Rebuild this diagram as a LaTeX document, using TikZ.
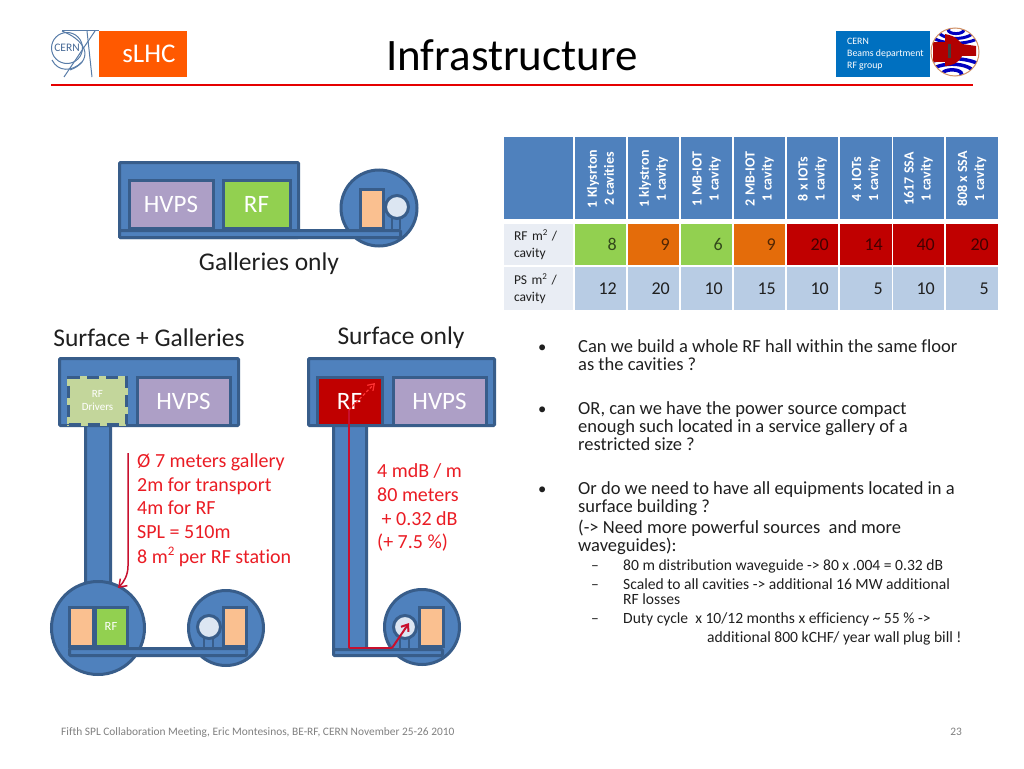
\documentclass[tikz,border=0pt]{standalone}
\usepackage{fontspec}
\usetikzlibrary{arrows.meta}
\setmainfont{Carlito}[Ligatures=NoCommon]
\definecolor{bfill}{HTML}{4F81BD}
\definecolor{bline}{HTML}{385D8A}
\definecolor{hvps}{HTML}{AD9FC6}
\definecolor{rfgreen}{HTML}{92D050}
\definecolor{peach}{HTML}{FAC090}
\definecolor{pale}{HTML}{DCE6F2}
\definecolor{drv}{HTML}{C3D69B}
\definecolor{rfred}{HTML}{C00000}
\definecolor{route}{HTML}{C8102E}
\definecolor{orng}{HTML}{E46C0A}
\definecolor{rowa}{HTML}{E9EDF4}
\definecolor{rowb}{HTML}{B8CCE4}
\definecolor{annot}{HTML}{EA1C24}
\definecolor{txt}{HTML}{1F1F1F}
\definecolor{foot}{HTML}{7F7F7F}
\newcommand{\fs}[1]{\fontsize{#1}{#1}\selectfont}
\newcommand{\sqr}[1]{\raisebox{0.4em}{\fs{#1}2}}
\tikzset{
 blk/.style={draw=bline,line width=3pt,fill=bfill,rounded corners=1pt,inner sep=0pt,outer sep=0pt},
 room/.style={draw=bline,line width=3pt,inner sep=0pt,outer sep=0pt,text=white},
 hcell/.style={inner sep=0pt,outer sep=0pt,fill=bfill,minimum width=#1,minimum height=82pt},
 htxt/.style={rotate=90,align=center,text=white,font=\fs{14}\bfseries,inner sep=0pt,execute at begin node={\baselineskip=17pt}},
 num/.style={fill=#1,inner sep=0pt,outer sep=0pt},
 line/.style={anchor=base west,inner sep=0pt,text=txt,font=\fs{18.5}},
 bull/.style={anchor=base west,inner sep=0pt,text=txt,font=\fs{16.6}},
 subl/.style={anchor=base west,inner sep=0pt,text=txt,font=\fs{15.6}},
 note/.style={anchor=base west,inner sep=0pt,text=annot,font=\fs{20}},
 big/.style={inner sep=0pt,text=txt,font=\fs{25.5}},
}
\newcommand{\tcol}[7]{%name, center, width, head, rf val, rf colour, ps val
 \node[hcell=#3pt] (h#1) at (#2,178) {};
 \node[htxt] at (#2,179) {#4};
 \node[num=#6,minimum width=#3pt,minimum height=41pt] (r#1) at (#2,244.5) {};
 \node[anchor=base east,inner sep=0pt,font=\fs{18},text=black!65!#6] at (#2+#3/2-9,250) {#5};
 \node[num=rowb,minimum width=#3pt,minimum height=43pt] (p#1) at (#2,288.5) {};
 \node[anchor=base east,inner sep=0pt,font=\fs{18},text=txt] at (#2+#3/2-9,294) {#7};
}
\begin{document}
\begin{tikzpicture}[x=1pt,y=-1pt]
\useasboundingbox (0,0) rectangle (1024,768);
% header
\node[inner sep=0pt,font=\fs{45},text=black] (title) at (512,55) {Infrastructure};
\draw[draw=red!90!black,line width=2pt] (51,85) -- (973,85);
\node[fill=orange!70!red,minimum width=88pt,minimum height=46pt,inner sep=0pt,text=white,font=\fs{27}] (slhc) at (143,54) {\hspace{12pt}sLHC};
% CERN logo
\begin{scope}[draw={rgb,255:red,88;green,124;blue,168},line width=1pt]
\draw (67,48) circle (15.5);
\draw (62,31) -- (99,31);
\draw (87,31) -- (92,77);
\draw (95,31) -- (64,77);
\draw (62,31) .. controls (90,42) and (92,62) .. (70,70);
\draw (52,60) .. controls (58,72) and (72,72) .. (82,62);
\end{scope}
\node[inner sep=0pt,font=\fs{11.5},text={rgb,255:red,70;green,105;blue,150}] (cern) at (67,48) {CERN};
% dept box
\node[fill={rgb,255:red,0;green,112;blue,192},minimum width=94pt,minimum height=46pt,inner sep=0pt] (dept) at (883,54) {};
\node[anchor=west,align=left,inner sep=0pt,text=white,font=\fs{9.8},execute at begin node={\baselineskip=12pt}] (depttx) at (847,54) {CERN\\Beams department\\RF group};
% cavity logo
\begin{scope}
\clip (955,52) circle (24);
\fill[white] (931,28) rectangle (979,76);
\foreach \r in {6,14,22}{\draw[blue!75!black,line width=3.5pt] (952,74) ellipse ({\r*1.6} and {\r*0.7});}
\foreach \r in {6,14,22}{\draw[blue!75!black,line width=3pt] (956,30) ellipse ({\r*1.3} and {\r*0.6});}
\fill[red!70!black] (933,42) rectangle (947,62);
\fill[red!70!black] (945,34) .. controls (956,36) and (958,40) .. (962,44) -- (976,46) -- (976,56) -- (962,56) .. controls (958,64) and (950,66) .. (945,66) -- cycle;
\fill[black!75] (948,44) rectangle (951,58);
\end{scope}
\draw[draw=brown!70!pink,line width=1pt] (955,52) circle (24);
% Galleries only
\node[blk,minimum width=179pt,minimum height=75pt] (g1) at (209,200) {};
\node[draw=bline,line width=3pt,fill=bfill,circle,minimum size=76pt,inner sep=0pt] (g2) at (379,208) {};
\node[room,fill=hvps,minimum width=84pt,minimum height=48pt,font=\fs{25}] (g3) at (171,204) {HVPS};
\node[room,fill=rfgreen,minimum width=67pt,minimum height=48pt,font=\fs{25}] (g4) at (256.5,204) {RF};
\node[room,fill=peach,minimum width=23pt,minimum height=39pt] (g5) at (371.5,208.5) {};
\draw[draw=bline,line width=2pt] (392,215) -- (392,229) (400,215) -- (400,229);
\node[draw=bline,line width=3pt,fill=pale,circle,minimum size=23pt,inner sep=0pt] (g6) at (397,207) {};
\node[blk,minimum width=281pt,minimum height=7pt] (g7) at (260,234) {};
\node[big] (gt) at (269,264) {Galleries only};
% Surface + Galleries
\node[big] (st) at (149,338) {Surface + Galleries};
\node[blk,minimum width=25pt,minimum height=160pt] (a1) at (98,505) {};
\node[draw=bline,line width=3pt,fill=bfill,circle,minimum size=93pt,inner sep=0pt] (a2) at (98,628) {};
\node[draw=bline,line width=3pt,fill=bfill,circle,minimum size=75pt,inner sep=0pt] (a3) at (226,628) {};
\node[blk,minimum width=179pt,minimum height=67pt] (a4) at (149,392) {};
\node[fill=drv,minimum width=61pt,minimum height=50pt,inner sep=0pt] (a5b) at (97.5,401) {};
\node[room,dash pattern=on 12pt off 7pt,minimum width=58pt,minimum height=47pt,align=center,font=\fs{11},execute at begin node={\baselineskip=13pt}] (a5) at (97.5,401) {RF\\Drivers};
\node[room,fill=hvps,minimum width=93pt,minimum height=48pt,font=\fs{25}] (a6) at (183.5,401) {HVPS};
\node[room,fill=peach,minimum width=24pt,minimum height=39pt] (a7) at (81,626.5) {};
\node[room,fill=rfgreen,minimum width=32pt,minimum height=39pt,font=\fs{12.5}] (a8) at (111,626.5) {RF};
\node[room,fill=peach,minimum width=23pt,minimum height=39pt] (a9) at (234.5,626.5) {};
\draw[draw=bline,line width=2pt] (204,634) -- (204,647) (213,634) -- (213,647);
\node[draw=bline,line width=3pt,fill=pale,circle,minimum size=23pt,inner sep=0pt] (a10) at (209,627) {};
\node[blk,minimum width=177pt,minimum height=7pt] (a11) at (158,652) {};
% Surface only
\node[big] (ot) at (401,338) {Surface only};
\node[blk,minimum width=33pt,minimum height=226pt] (b1) at (350,537) {};
\node[draw=bline,line width=3pt,fill=bfill,circle,minimum size=75pt,inner sep=0pt] (b2) at (422,627) {};
\node[blk,minimum width=186pt,minimum height=67pt] (b3) at (401.5,392) {};
\node[room,fill=rfred,minimum width=65pt,minimum height=48pt,font=\fs{25}] (b4) at (349.5,401) {RF};
\node[room,fill=hvps,minimum width=93pt,minimum height=48pt,font=\fs{25}] (b5) at (439.5,401) {HVPS};
\node[room,fill=peach,minimum width=24pt,minimum height=39pt] (b6) at (431,627) {};
\draw[draw=bline,line width=2pt] (400,634) -- (400,648) (409,634) -- (409,648);
\node[draw=bline,line width=3pt,fill=pale,circle,minimum size=23pt,inner sep=0pt] (b7) at (405,627) {};
\node[blk,minimum width=109pt,minimum height=6pt] (b8) at (388,652.5) {};
% red routes
\coordinate (c1) at (349,410);
\coordinate (c2) at (375,383);
\coordinate (c3) at (349,648);
\coordinate (c4) at (392,648);
\coordinate (c5) at (409,623);
\draw[draw=route,line width=2pt,-{Straight Barb[length=6pt,width=9pt]}] (c4) -- (c5);
\draw[draw=route,line width=1.8pt] (c3) -- (c4) (c3) -- (c1);
\draw[draw=red!80!white,line width=1.2pt,dash pattern=on 3pt off 2pt,-{Straight Barb[length=6pt,width=8pt,line width=1.2pt]}] (c1) -- (c2);
% annotation arrow
\coordinate (d1) at (128,453);
\coordinate (d2) at (128,566);
\coordinate (d3) at (118,588);
\draw[draw=route,line width=1.5pt,-{Straight Barb[length=7pt,width=10pt]}] (d1) -- (d2) .. controls (128,575) and (124,582) .. (d3);
% red notes
\node[note] (n1) at (137,467) {Ø 7 meters gallery};
\node[note] (n2) at (137,491) {2m for transport};
\node[note] (n3) at (137,514) {4m for RF};
\node[note] (n4) at (137,538) {SPL = 510m};
\node[note] (n5) at (137,563) {8 m\sqr{13} per RF station};
\node[note] (m1) at (377,477) {4 mdB / m};
\node[note] (m2) at (377,501) {80 meters};
\node[note] (m3) at (377,525) {\ + 0.32 dB};
\node[note] (m4) at (377,548) {(+ 7.5 \%)};
% table
\node[hcell=69pt] (h0) at (538.5,178) {};
\node[num=rowa,minimum width=69pt,minimum height=41pt,text width=49pt,align=left,font=\fs{13.5},text=txt,execute at begin node={\baselineskip=17pt}] (r0) at (538.5,244.5) {RF m\sqr{9} /\\cavity};
\node[num=rowa,minimum width=69pt,minimum height=43pt,text width=49pt,align=left,font=\fs{13.5},text=txt,execute at begin node={\baselineskip=17pt}] (p0) at (538.5,288.5) {PS m\sqr{9} /\\cavity};
\tcol{1}{600.5}{51}{1 Klysrton\\2 cavities}{8}{rfgreen}{12}
\tcol{2}{653.5}{51}{1 klystron\\1 cavity}{9}{orng}{20}
\tcol{3}{706.5}{51}{1 MB-IOT\\1 cavity}{6}{rfgreen}{10}
\tcol{4}{759.5}{51}{2 MB-IOT\\1 cavity}{9}{orng}{15}
\tcol{5}{812.5}{51}{8 x IOTs\\1 cavity}{20}{rfred}{10}
\tcol{6}{866}{52}{4 x IOTs\\1 cavity}{14}{rfred}{5}
\tcol{7}{918.5}{51}{1617 SSA\\1 cavity}{40}{rfred}{10}
\tcol{8}{972}{52}{808 x SSA\\1 cavity}{20}{rfred}{5}
% bullets
\node[bull] (u1) at (538,352) {•};
\node[line] (l1) at (578,352) {Can we build a whole RF hall within the same floor};
\node[line] (l2) at (578,370) {as the cavities ?};
\node[bull] (u2) at (538,414) {•};
\node[line] (l3) at (578,414) {OR, can we have the power source compact};
\node[line] (l4) at (578,432) {enough such located in a service gallery of a};
\node[line] (l5) at (578,450) {restricted size ?};
\node[bull] (u3) at (538,494) {•};
\node[line] (l6) at (578,494) {Or do we need to have all equipments located in a};
\node[line] (l7) at (578,512) {surface building ?};
\node[line] (l8) at (578,533) {(-> Need more powerful sources\ \ and more};
\node[line] (l9) at (578,551) {waveguides):};
\node[subl] (d4) at (591,570) {–};
\node[subl] (s1) at (623,570) {80 m distribution waveguide -> 80 x .004 = 0.32 dB};
\node[subl] (d5) at (591,589) {–};
\node[subl] (s2) at (623,589) {Scaled to all cavities -> additional 16 MW additional};
\node[subl] (s3) at (623,604) {RF losses};
\node[subl] (d6) at (591,623) {–};
\node[subl] (s4) at (623,623) {Duty cycle\ \ x 10/12 months x efficiency \textasciitilde\ 55 \% ->};
\node[subl] (s5) at (707,642) {additional 800 kCHF/ year wall plug bill !};
% footer
\node[anchor=base west,inner sep=0pt,font=\fs{11.4},text=foot] (f1) at (61,735) {Fifth SPL Collaboration Meeting, Eric Montesinos, BE-RF, CERN November 25-26 2010};
\node[anchor=base east,inner sep=0pt,font=\fs{11.4},text=foot] (f2) at (962,735) {23};
\end{tikzpicture}
\end{document}
